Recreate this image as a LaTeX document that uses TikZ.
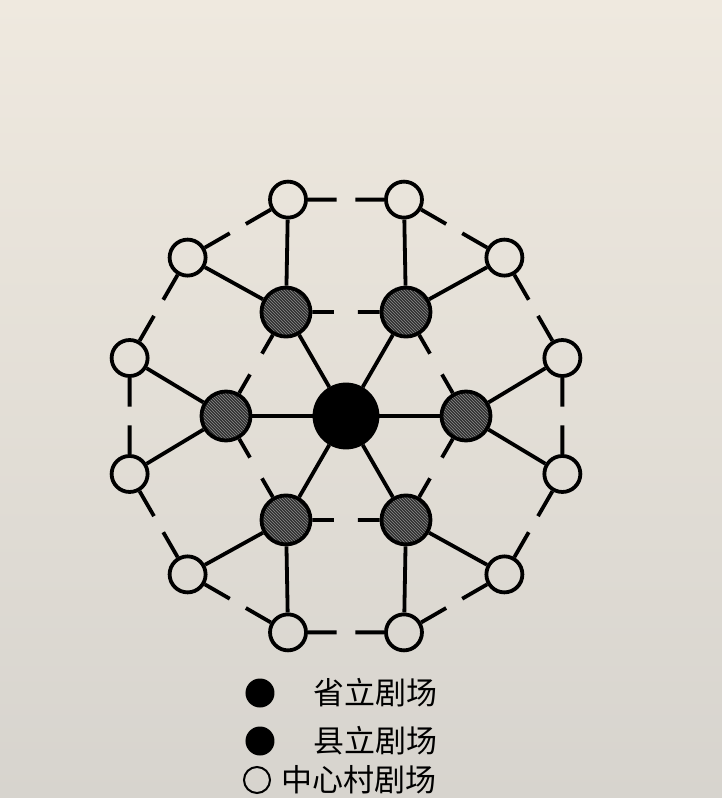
\documentclass[tikz,border=0pt]{standalone}
\usepackage{fontspec}
\newfontfamily\cjk{Noto Sans CJK SC}
\usetikzlibrary{calc,patterns}
\definecolor{paperTop}{HTML}{EFE9DF}
\definecolor{paperLow}{HTML}{D7D4CE}
\definecolor{inkGray}{HTML}{303030}

\begin{document}
\begin{tikzpicture}[x=1pt, y=1pt, line width=3.8pt,
  hub/.style={circle, draw, fill=black, minimum size=63pt, inner sep=0pt},
  county/.style={circle, draw, minimum size=49pt, inner sep=0pt,
    preaction={fill=inkGray}, pattern=north west lines, pattern color=black!45},
  village/.style={circle, draw, minimum size=36pt, inner sep=0pt},
  keytext/.style={font=\cjk\fontsize{31}{31}\selectfont, anchor=west, inner sep=0pt}]
  \useasboundingbox (-346,-382) rectangle (376,416);
  % page
  \shade[top color=paperTop, bottom color=paperLow] (-346,-382) rectangle (376,416);

  % theatres
  \node[hub] (hub) at (0,0) {};
  \foreach \k in {0,...,5}
    \node[county] (c\k) at (60*\k:120) {};
  \foreach \i in {0,...,11}
    \node[village] (v\i) at (15+30*\i:224) {};

  % hub to county theatres
  \foreach \k in {0,...,5}
    \draw (hub) -- (c\k);

  % each county theatre feeds two villages
  \foreach \k [evaluate=\k as \a using {int(mod(2*\k+11,12))},
               evaluate=\k as \b using {int(2*\k)}] in {0,...,5}
    \draw (v\a) -- (c\k) -- (v\b);

  % broken links round the rings
  \foreach \k [evaluate=\k as \n using {int(mod(\k+1,6))}] in {0,...,5} {
    \draw (c\k) -- ($(c\k)!.4!(c\n)$);
    \draw (c\n) -- ($(c\n)!.4!(c\k)$);
  }
  \foreach \i [evaluate=\i as \n using {int(mod(\i+1,12))}] in {0,...,11} {
    \draw (v\i) -- ($(v\i)!.42!(v\n)$);
    \draw (v\n) -- ($(v\n)!.42!(v\i)$);
  }

  % key
  \node[circle, fill=black, minimum size=29pt, inner sep=0pt] (keyhub) at (-86,-277) {};
  \node[keytext] (keyhubtext) at (-34,-277) {省立剧场};
  \node[circle, fill=black, minimum size=29pt, inner sep=0pt] (keycounty) at (-86,-325) {};
  \node[keytext] (keycountytext) at (-34,-325) {县立剧场};
  \node[circle, draw, line width=2pt, minimum size=26pt, inner sep=0pt] (keyvillage) at (-89,-364) {};
  \node[keytext] (keyvillagetext) at (-66,-364) {中心村剧场};
\end{tikzpicture}
\end{document}
